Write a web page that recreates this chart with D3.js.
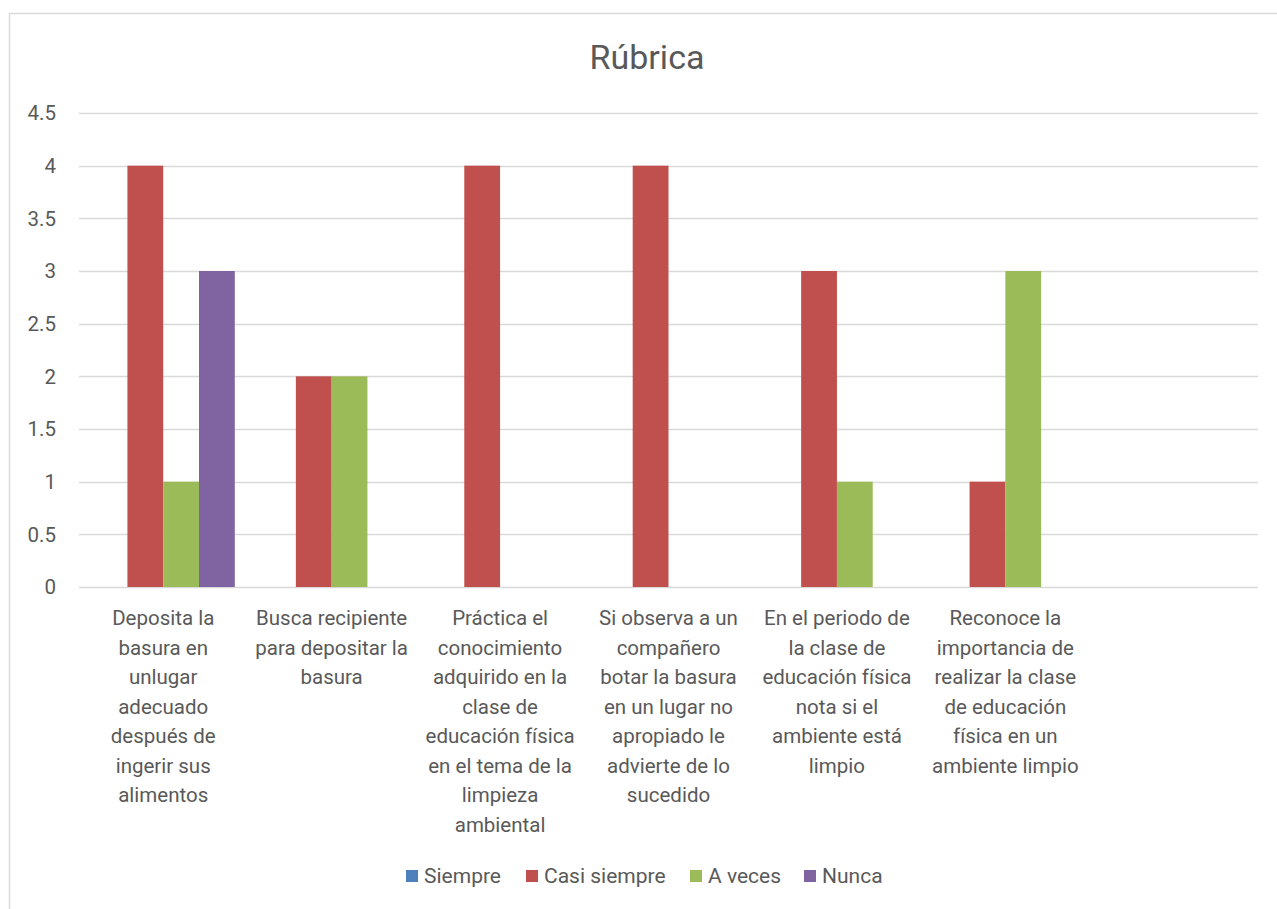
<!DOCTYPE html>
<html>
<head>
<meta charset="utf-8">
<script src="https://cdn.jsdelivr.net/npm/d3@7"></script>
<style>
  body { margin: 0; background: #fff; }
  svg text { font-family: "Roboto", sans-serif; fill: #595959; }
</style>
</head>
<body>
<svg id="chart" width="1277" height="909"></svg>
<script>
// data
const categories = [
  'Deposita la\nbasura en\nunlugar\nadecuado\ndespués de\ningerir sus\nalimentos',
  'Busca recipiente\npara depositar la\nbasura',
  'Práctica el\nconocimiento\nadquirido en la\nclase de\neducación física\nen el tema de la\nlimpieza\nambiental',
  'Si observa a un\ncompañero\nbotar la basura\nen un lugar no\napropiado le\nadvierte de lo\nsucedido',
  'En el periodo de\nla clase de\neducación física\nnota si el\nambiente está\nlimpio',
  'Reconoce la\nimportancia de\nrealizar la clase\nde educación\nfísica en un\nambiente limpio',
  ''
];
const seriesNames = ['Siempre', 'Casi siempre', 'A veces', 'Nunca'];
const siempre = [0, 0, 0, 0, 0, 0, null];
const casiSiempre = [4, 2, 4, 4, 3, 1, null];
const aVeces = [1, 2, 0, 0, 1, 3, null];
const nunca = [3, 0, 0, 0, 0, 0, null];
const yTicks = [0, 0.5, 1, 1.5, 2, 2.5, 3, 3.5, 4, 4.5];

const colors = ['#4F81BD', '#C0504D', '#9BBB59', '#8064A2'];
const seriesValues = [siempre, casiSiempre, aVeces, nunca];

const svg = d3.select('#chart');

// chart frame
svg.append('path')
  .attr('d', 'M9.5,909 V13.5 H1277')
  .attr('fill', 'none')
  .attr('stroke', '#D9D9D9')
  .attr('stroke-width', 1.5);

const plot = { left: 79, right: 1258, top: 113, bottom: 587 };

const x = d3.scaleBand().domain(d3.range(categories.length)).range([plot.left, plot.right]).padding(0);
const inner = x.bandwidth() * 0.075;
const xs = d3.scaleBand().domain(seriesNames).range([inner, x.bandwidth() - inner]).padding(0);
const y = d3.scaleLinear().domain([0, 4.5]).range([plot.bottom, plot.top]);

// title
svg.append('text')
  .attr('x', 647).attr('y', 69)
  .attr('text-anchor', 'middle')
  .attr('font-size', 34)
  .text('Rúbrica');

// gridlines
svg.append('g').selectAll('line')
  .data(yTicks)
  .join('line')
  .attr('x1', plot.left).attr('x2', plot.right)
  .attr('y1', d => Math.round(y(d)) + 0.5).attr('y2', d => Math.round(y(d)) + 0.5)
  .attr('stroke', '#D9D9D9')
  .attr('stroke-width', 1.5);

// y labels
svg.append('g').selectAll('text')
  .data(yTicks)
  .join('text')
  .attr('x', 56)
  .attr('y', d => y(d))
  .attr('dy', '0.35em')
  .attr('text-anchor', 'end')
  .attr('font-size', 20.5)
  .text(d => d);

// bars
seriesNames.forEach((name, si) => {
  svg.append('g').selectAll('rect')
    .data(seriesValues[si].map((v, i) => ({ v, i })).filter(d => d.v))
    .join('rect')
    .attr('x', d => x(d.i) + xs(name))
    .attr('width', xs.bandwidth())
    .attr('y', d => y(d.v))
    .attr('height', d => y(0) - y(d.v))
    .attr('fill', colors[si]);
});

// x labels
const xLabels = svg.append('g').selectAll('text')
  .data(categories)
  .join('text')
  .attr('text-anchor', 'middle')
  .attr('font-size', 20.5);

xLabels.selectAll('tspan')
  .data((d, i) => d ? d.split('\n').map(line => ({ line, i })) : [])
  .join('tspan')
  .attr('x', d => x(d.i) + x.bandwidth() / 2)
  .attr('y', (d, k) => 625 + k * 29.5)
  .text(d => d.line);

// legend
const legendX = [406, 526, 690, 804];
const legend = svg.append('g').selectAll('g')
  .data(seriesNames)
  .join('g')
  .attr('transform', (d, i) => `translate(${legendX[i]},870)`);

legend.append('rect')
  .attr('width', 12).attr('height', 12)
  .attr('fill', (d, i) => colors[i]);

legend.append('text')
  .attr('x', 18).attr('y', 6)
  .attr('dy', '0.35em')
  .attr('font-size', 21)
  .text(d => d);
</script>
</body>
</html>
